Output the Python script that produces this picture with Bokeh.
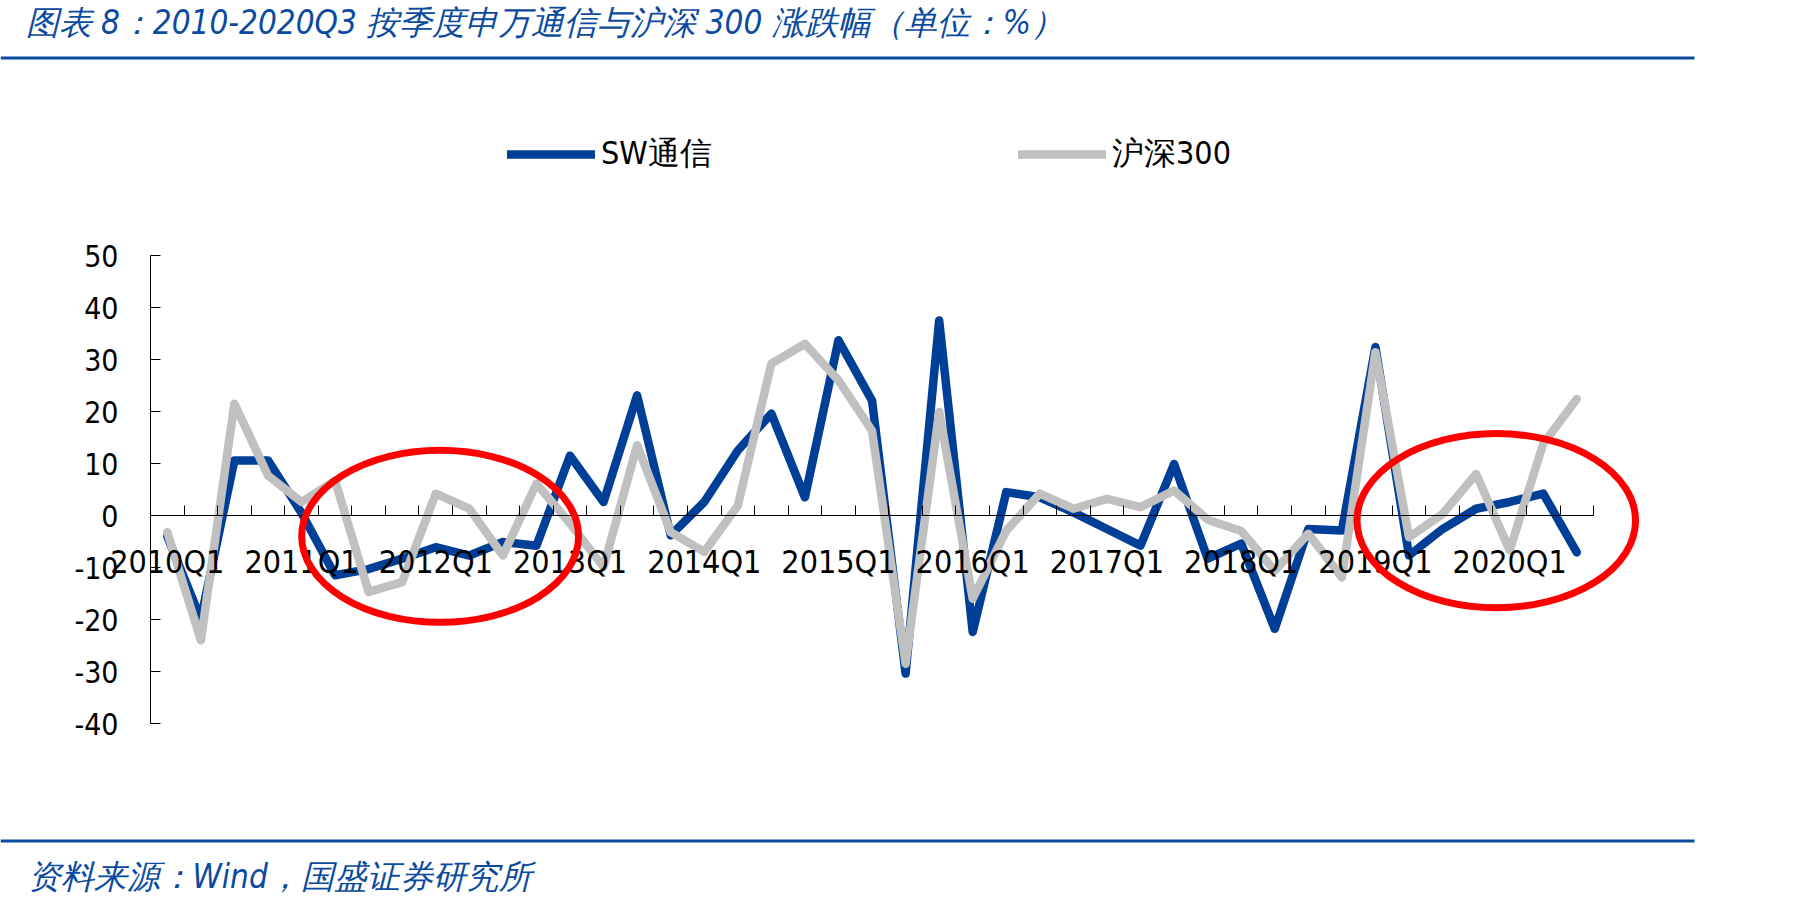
from bokeh.plotting import figure
from bokeh.models import (Range1d, FixedTicker, Legend, LegendItem, Label,
                          BoxAnnotation)
from bokeh.embed import file_html
from bokeh.resources import INLINE

# ---------------- data ----------------
quarters = [f"{y}Q{q}" for y in range(2010, 2021) for q in range(1, 5)][:43]
sw_telecom = [-4, -19.9, 10.6, 10.6, 0.5, -11.5, -10.3, -8.3, -6.1, -7.7, -5.1,
              -5.8, 11.5, 2.6, 23.1, -3.8, 2.6, 12.5, 19.6, 3.5, 33.7, 22.1,
              -30.4, 37.5, -22.4, 4.5, 3.5, 0.6, -2.6, -5.8, 9.9, -8.3, -5.4,
              -21.8, -2.6, -2.9, 32.4, -7.7, -2.6, 1.3, 2.6, 4.2, -7.1]
hs300 = [-3.2, -24, 21.5, 7.7, 2.6, 6.7, -14.7, -12.8, 4.2, 1.3, -7.7, 6.1,
         -1.5, -9.9, 13.5, -3.2, -7, 1.9, 29.2, 33, 26, 16.3, -28.5, 19.9, -16,
         -2.9, 4.2, 1.3, 3.2, 1.6, 4.8, -0.8, -3, -10.6, -3.5, -11.9, 31.4,
         -4.2, 0.3, 8, -6.7, 13.8, 22.4]
y_ticks = [-40, -30, -20, -10, 0, 10, 20, 30, 40, 50]
series_names = ["SW通信", "沪深300"]
# highlighted regions (quarter index centre, y centre, width in quarters, height in %)
hl_x = [8.13, 39.6]
hl_y = [-4.0, -1.0]
hl_w = [8.25, 8.3]
hl_h = [33.1, 33.5]

title_text = "图表 8：2010-2020Q3 按季度申万通信与沪深 300 涨跌幅（单位：%）"
source_text = "资料来源：Wind，国盛证券研究所"

BLUE = "#003f98"
GRAY = "#c0c0c0"
DEEP = "#0b4b9f"
FONT = "DejaVu Sans Condensed"

W, H = 1807, 906
# plot-area geometry in canvas px: x=-0.5 at 150, 33.56 px per quarter;
# y=0 at 515, 5.2 px per percent
PX_Q, X0 = 33.56, 150
PX_Y, Y0 = 5.2, 515
n = len(quarters)
idx = list(range(n))
x_start = -0.5 - X0 / PX_Q
y_end = Y0 / PX_Y

p = figure(width=W, height=H, output_backend="svg", toolbar_location=None,
           title=None,
           x_range=Range1d(x_start, x_start + W / PX_Q),
           y_range=Range1d(y_end - H / PX_Y, y_end),
           min_border=0, min_border_left=0, min_border_right=0,
           min_border_top=0, min_border_bottom=0, outline_line_color=None,
           background_fill_color="white", border_fill_color="white")
p.xgrid.visible = False
p.ygrid.visible = False

r_sw = p.line(idx, sw_telecom, line_color=BLUE, line_width=8.5,
              line_join="round", line_cap="round")
r_hs = p.line(idx, hs300, line_color=GRAY, line_width=8.5,
              line_join="round", line_cap="round")
p.ellipse(x=hl_x, y=hl_y, width=hl_w, height=hl_h, fill_color=None,
          line_color="#ff0000", line_width=7, level="overlay")

# y axis (drawn at the left edge of the category area)
ya = p.yaxis[0]
ya.fixed_location = -0.5
ya.bounds = (min(y_ticks), max(y_ticks))
ya.ticker = FixedTicker(ticks=y_ticks)
ya.major_label_overrides = {t: str(t) for t in y_ticks}
ya.major_tick_in = 10
ya.major_tick_out = 0
ya.minor_tick_line_color = None
ya.major_tick_line_color = "black"
ya.axis_line_color = "black"
ya.major_label_text_font = FONT
ya.major_label_text_font_size = "30px"
ya.major_label_text_color = "black"
ya.major_label_standoff = 32

# x axis crossing at y = 0
xa = p.xaxis[0]
q1_idx = [i for i, q in enumerate(quarters) if q.endswith("Q1")]
xa.ticker = FixedTicker(ticks=q1_idx,
                        minor_ticks=[i - 0.5 for i in range(n + 1)])
xa.major_label_overrides = {i: quarters[i] for i in q1_idx}
xa.fixed_location = 0
xa.bounds = (-0.5, n - 0.5)
xa.major_tick_line_color = None
xa.minor_tick_in = 10
xa.minor_tick_out = 0
xa.minor_tick_line_color = "black"
xa.axis_line_color = "black"
xa.major_label_text_font = FONT
xa.major_label_text_font_size = "32px"
xa.major_label_text_color = "black"
xa.major_label_standoff = 21

# legends (screen units from the bottom-left of the canvas)
leg_bottom = H - (156 + 20)
for r, name, cx in [(r_sw, series_names[0], 507), (r_hs, series_names[1], 1018)]:
    lg = Legend(items=[LegendItem(label=name, renderers=[r])],
                location=(cx, leg_bottom), orientation="horizontal",
                glyph_width=88, glyph_height=40, label_height=40,
                label_standoff=6, padding=0, margin=0, spacing=0,
                border_line_alpha=0, background_fill_alpha=0,
                label_text_font=FONT, label_text_font_size="32px",
                label_text_color="black")
    p.add_layout(lg, "center")

# title, source and rules
p.add_layout(Label(x=25, y=H - 22, x_units="screen", y_units="screen",
                   text=title_text, text_font=FONT, text_font_size="33px",
                   text_font_style="italic", text_color=DEEP,
                   text_baseline="middle"))
p.add_layout(Label(x=27, y=H - 876, x_units="screen", y_units="screen",
                   text=source_text, text_font=FONT, text_font_size="33px",
                   text_font_style="italic", text_color=DEEP,
                   text_baseline="middle"))
for top in (56, 839):
    p.add_layout(BoxAnnotation(left=0, right=1694, top=H - top,
                               bottom=H - top - 3, left_units="screen",
                               right_units="screen", top_units="screen",
                               bottom_units="screen", fill_color=DEEP,
                               fill_alpha=1, line_color=None, level="overlay"))

open("out.html", "w").write(file_html(p, INLINE))
